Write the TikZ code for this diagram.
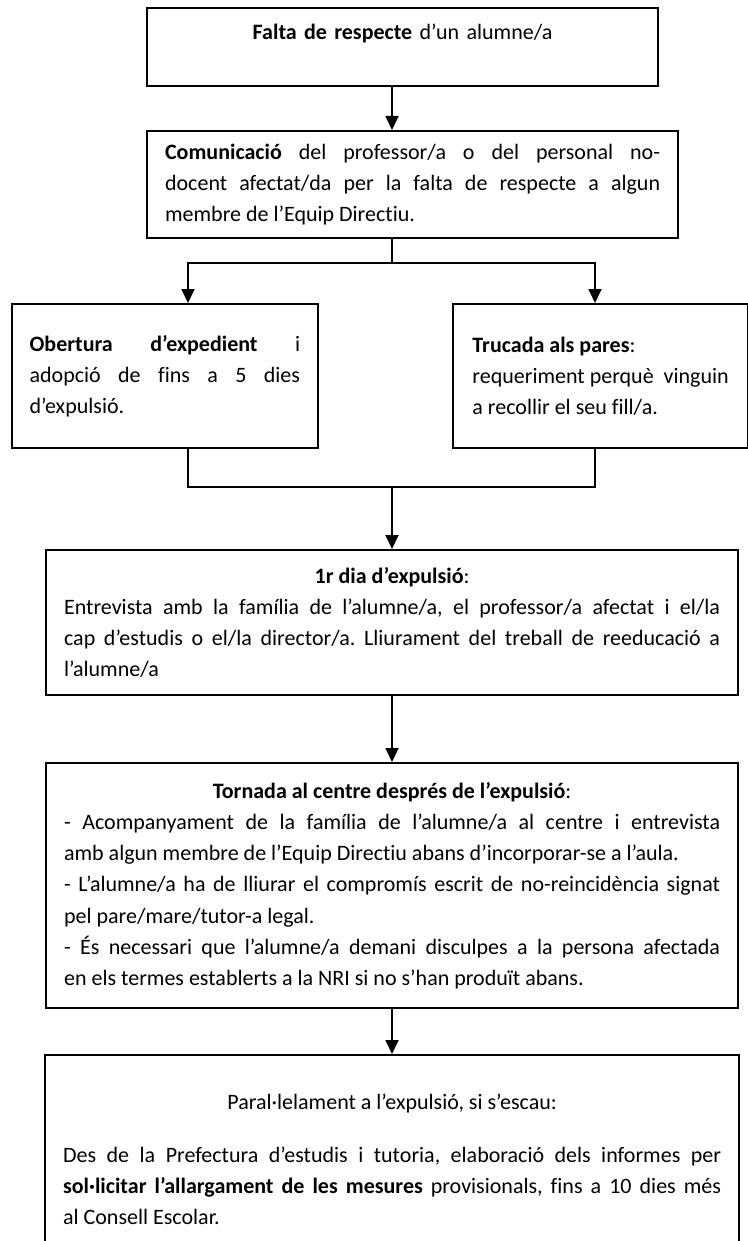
\documentclass[tikz,border=0pt]{standalone}
\usepackage{fontspec}
\setmainfont{Carlito}[Ligatures={NoCommon}]
\usepackage{tikz}
\usetikzlibrary{calc,positioning,arrows.meta}
\frenchspacing

\begin{document}
\begin{tikzpicture}[x=0.5pt,y=-0.5pt]
\tikzstyle{box}=[draw, line width=1.1pt, anchor=north west, inner xsep=9pt, inner ysep=0pt, font=\fontsize{11}{15.6}\selectfont]
\tikzstyle{arr}=[line width=0.9pt, -{Triangle[width=6.5pt,length=7pt]}]
\tikzstyle{wire}=[line width=0.9pt]
\useasboundingbox (0,0) rectangle (748,1241);
\coordinate (spine) at (392,0);
\coordinate (split) at (392,263);
\coordinate (join) at (392,487);
\coordinate (lbr) at (188,0);
\coordinate (rbr) at (595,0);
% boxes, top to bottom
\node[box, align=center, text width=237.5pt, minimum height=39pt] (fault) at (146,7) {\textbf{Falta de respecte} d’un alumne/a\\ \mbox{}};
\node[box, align=justify, text width=247.5pt, minimum height=53.5pt] (comm) at (146,130) {\textbf{Comunicació} del professor/a o del personal no-\linebreak docent afectat/da per la falta de respecte a algun\linebreak membre de l’Equip Directiu.};
\node[box, align=justify, text width=135.25pt, minimum height=72pt] (exp) at (10.5,303) {\textbf{Obertura d’expedient} i\linebreak adopció de fins a 5 dies\linebreak d’expulsió.};
\node[box, align=left, minimum width=147.5pt, minimum height=72pt] (call) at (452,303) {\textbf{Trucada als pares}:\\requeriment perquè\ \ vinguin\\a recollir el seu fill/a.};
\node[box, align=justify, text width=328pt, minimum height=72.5pt] (day1) at (45,549) {\makebox[\linewidth]{\textbf{1r dia d’expulsió}:}\par
Entrevista amb la família de l’alumne/a, el professor/a afectat i el/la\linebreak cap d’estudis o el/la director/a. Lliurament del treball de reeducació a\linebreak l’alumne/a};
\node[box, align=justify, text width=328pt, minimum height=122.5pt] (back) at (45,762) {\makebox[\linewidth]{\textbf{Tornada al centre després de l’expulsió}:}\par
- Acompanyament de la família de l’alumne/a al centre i entrevista\linebreak amb algun membre de l’Equip Directiu abans d’incorporar-se a l’aula.\par
- L’alumne/a ha de lliurar el compromís escrit de no-reincidència signat\linebreak pel pare/mare/tutor-a legal.\par
- És necessari que l’alumne/a demani disculpes a la persona afectada\linebreak en els termes establerts a la NRI si no s’han produït abans.};
\node[box, align=justify, text width=329pt, minimum height=104pt] (par) at (44,1054) {\makebox[\linewidth]{Paral·lelament a l’expulsió, si s’escau:}\par\vspace{10.9pt}
Des de la Prefectura d’estudis i tutoria, elaboració dels informes per\linebreak \textbf{sol·licitar l’allargament de les mesures} provisionals, fins a 10 dies més\linebreak al Consell Escolar.};
% connectors
\draw[arr] (fault.south -| spine) -- (comm.north -| spine);
\draw[wire] (comm.south -| spine) -- (split);
\draw[arr] (split) -| (exp.north -| lbr);
\draw[arr] (split) -| (call.north -| rbr);
\draw[wire] (exp.south -| lbr) |- (join);
\draw[wire] (call.south -| rbr) |- (join);
\draw[arr] (join) -- (day1.north -| join);
\draw[arr] (day1.south -| spine) -- (back.north -| spine);
\draw[arr] (back.south -| spine) -- (par.north -| spine);
\end{tikzpicture}
\end{document}
